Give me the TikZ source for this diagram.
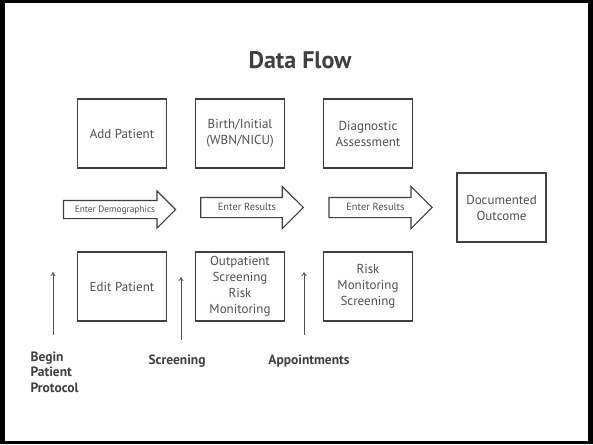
\documentclass[tikz,border=0pt]{standalone}
\usepackage{fontspec}
\setmainfont{PT Sans}
\usetikzlibrary{shapes.arrows,arrows.meta}
\definecolor{linegray}{HTML}{3F3F3F}
\definecolor{textgray}{HTML}{505050}
\begin{document}
\begin{tikzpicture}[x=1pt,y=-1pt,
    every node/.style={text=textgray, font=\fontsize{13}{16}\selectfont, align=center},
    stepbox/.style={draw=linegray, line width=1.3pt, minimum width=89pt, minimum height=69pt, inner sep=2pt},
    flow/.style={single arrow, draw=linegray, line width=1.1pt, single arrow head indent=0pt,
      shape border rotate=0, text height=7pt, text depth=2pt, inner xsep=2pt},
    tag/.style={font=\fontsize{13.5}{15.5}\selectfont\bfseries, text=linegray},
    up/.style={draw=linegray!90, line width=0.8pt, -{To[length=4pt,width=5pt]}}]
      % frame
      \fill[black] (0,0) rectangle (593,444);
      \fill[white] (4.5,3) rectangle (588,441);
      \useasboundingbox (0,0) rectangle (593,444);
      \node[font=\fontsize{24}{26}\selectfont\bfseries, text=linegray] (title) at (300,60) {Data Flow};
      % boxes
      \node[stepbox] (add) at (122,133.5) {Add Patient};
      \node[stepbox] (birth) at (240,133.5) {Birth/Initial\\(WBN/NICU)};
      \node[stepbox] (diag) at (368,133.5) {Diagnostic\\Assessment};
      \node[stepbox] (outcome) at (501.5,207.5) {Documented\\Outcome};
      \node[stepbox] (edit) at (122,286.5) {Edit Patient};
      \node[stepbox] (outpat) at (240,286.5) {Outpatient\\Screening\\Risk\\Monitoring};
      \node[stepbox] (riskmon) at (368,286.5) {Risk\\Monitoring\\Screening};
      % flow arrows
      \node[flow, font=\fontsize{9.3}{10}\selectfont, inner ysep=4pt, single arrow head extend=9.5pt,
        minimum height=112pt] (demo) at (115,209.5) {Enter Demographics};
      \node[flow, font=\fontsize{10.4}{11}\selectfont, inner ysep=5pt, single arrow head extend=11pt,
        minimum height=102.5pt] (res1) at (247,207.5) {Enter Results};
      \node[flow, font=\fontsize{10.4}{11}\selectfont, inner ysep=5pt, single arrow head extend=11pt,
        minimum height=103pt] (res2) at (375.5,207.5) {Enter Results};
      % labels
      \node[tag, align=left, anchor=west] (begin) at (27,372) {Begin\\Patient\\Protocol};
      \node[tag] (screen) at (177,361) {Screening};
      \node[tag] (appt) at (309,361) {Appointments};
      \coordinate (begin-tail) at (53,335);
      \coordinate (begin-tip) at (53,272);
      \coordinate (screen-tail) at (181,340);
      \coordinate (screen-tip) at (181,277);
      \coordinate (appt-tail) at (304,335);
      \coordinate (appt-tip) at (304,272);
      \draw[up] (begin-tail) -- (begin-tip);
      \draw[up] (screen-tail) -- (screen-tip);
      \draw[up] (appt-tail) -- (appt-tip);
\end{tikzpicture}
\end{document}
